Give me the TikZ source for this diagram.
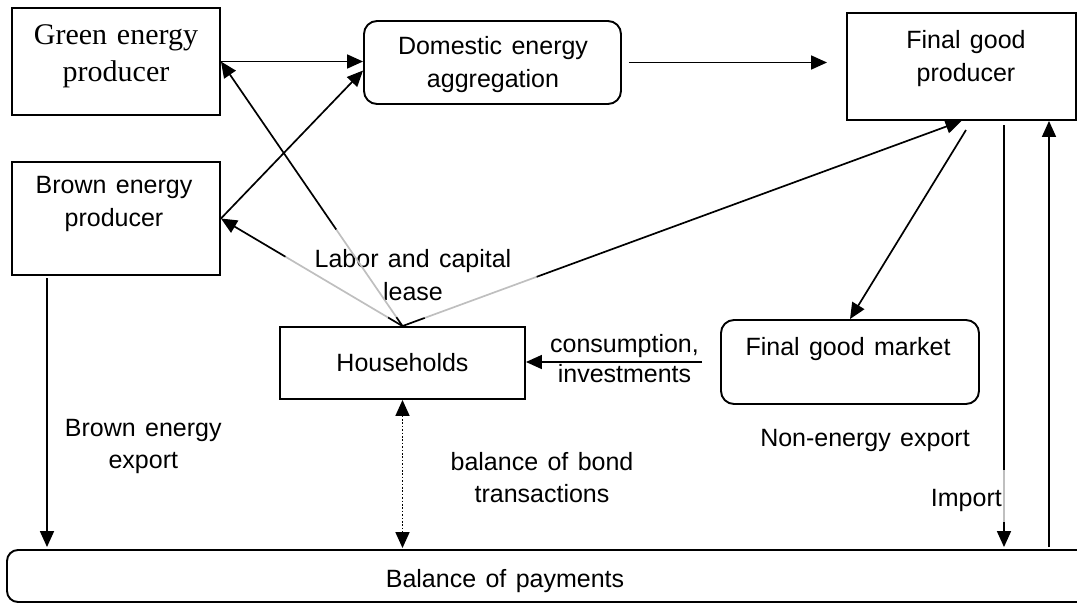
\documentclass[tikz,border=0pt]{standalone}
\usepackage{fontspec}
\setmainfont{Liberation Sans}[WordSpace=1.35]
\newfontfamily\tnrfont{Liberation Serif}[WordSpace=1.3]
\usetikzlibrary{arrows.meta,calc}
\begin{document}
\begin{tikzpicture}[x=1pt,y=-1pt,
  box/.style={draw, line width=1.9pt, inner sep=0pt, font=\fontsize{25}{33}\selectfont},
  lbl/.style={inner sep=0pt, align=center, font=\fontsize{25}{33}\selectfont},
  arr/.style={line width=1.7pt, -{Triangle[length=16pt,width=14pt]}},
  ln/.style={line width=1.7pt},
  faint/.style={line width=1.7pt, draw=black!25},
]
\useasboundingbox (0,0) rectangle (1077,603);
\clip (0,0) rectangle (1077,603);

% boxes
\node[box, minimum width=208pt, minimum height=107pt] (green) at (116,61.5) {};
\node[box, rounded corners=13pt, minimum width=257pt, minimum height=83pt] (dom) at (492.5,62.5) {};
\node[box, minimum width=229pt, minimum height=107pt] (final) at (961.5,66.5) {};
\node[box, minimum width=208pt, minimum height=113pt] (brown) at (116,218.5) {};
\node[box, minimum width=245pt, minimum height=72pt] (hh) at (402.5,363) {Households};
\node[box, rounded corners=13pt, minimum width=258pt, minimum height=84pt] (fgm) at (850,362) {};
\node[box, rounded corners=11pt, minimum width=1085pt, minimum height=52pt] (bop) at (549.5,576) {};

% box texts
\node[lbl, font=\tnrfont\fontsize{30}{37}\selectfont] (tgreen) at (116,56.5) {Green energy\\producer};
\node[lbl] (tdom) at (493,64.5) {Domestic energy\\aggregation};
\node[lbl] (tfinal) at (966,58.7) {Final good\\producer};
\node[lbl] (tbrown) at (114,203.5) {Brown energy\\producer};
\node[lbl, anchor=base] (tfgm) at (848,355) {Final good market};
\node[lbl, anchor=base] (tbop) at (505,587.3) {Balance of payments};

% edge labels
\node[lbl] (tlabor) at (413,275) {Labor and capital\\lease};
\node[lbl, font=\fontsize{25}{30}\selectfont] (tcons) at (624.5,359) {consumption,\\investments};
\node[lbl, font=\fontsize{25}{32}\selectfont] (texp) at (143.3,446) {Brown energy\\export};
\node[lbl, font=\fontsize{25}{32}\selectfont] (tbond) at (542,477.4) {balance of bond\\transactions};
\node[lbl, anchor=base] (tnon) at (865,446.7) {Non-energy export};
\node[lbl, anchor=base east] (timp) at (1002,506) {Import};

% energy flows
\draw[arr] (green.east) -- (green.east -| dom.west);
\draw[arr] (brown.east) -- ([yshift=-8pt]dom.west);
\draw[arr] ([xshift=7pt]dom.east) -- ([xshift=-19pt]dom.east -| final.west);

% labor and capital lease
\path (hh.north) -- (green.east) coordinate[pos=0.034] (g1) coordinate[pos=0.365] (g2);
\draw[ln] (hh.north) -- (g1);
\draw[faint] (g1) -- (g2);
\draw[arr] (g2) -- (green.east);

\path (hh.north) -- (brown.east) coordinate[pos=0.08] (b1) coordinate[pos=0.645] (b2);
\draw[ln] (hh.north) -- (b1);
\draw[faint] (b1) -- (b2);
\draw[arr] (b2) -- (brown.east);

\path (hh.north) -- (final.south) coordinate[pos=0.04] (f1) coordinate[pos=0.24] (f2);
\draw[ln] (hh.north) -- (f1);
\draw[faint] (f1) -- (f2);
\draw[arr] (f2) -- (final.south);

% final good flows
\coordinate (fs) at (966,130);
\draw[arr] (fs) -- (fgm.north);
\draw[arr] ([xshift=-18pt]fgm.west) -- (fgm.west -| hh.east);

% import / export
\coordinate (imptop) at (1004,125);
\coordinate (impg1) at (1004,470);
\coordinate (impg2) at (1004,522);
\draw[ln] (imptop) -- (impg1);
\draw[faint] (impg1) -- (impg2);
\draw[arr] (impg2) -- ([yshift=2pt]imptop |- bop.north);

\coordinate (upbot) at (1049,547);
\draw[arr] (upbot) -- (upbot |- final.south);

\coordinate (expt) at (47,278);
\draw[arr] (expt) -- ([yshift=2pt]expt |- bop.north);

% bonds
\draw[line width=1.7pt, dash pattern=on 1.7pt off 1.7pt, {Triangle[length=16pt,width=14pt]}-{Triangle[length=16pt,width=14pt]}] (hh.south) -- ([yshift=1pt]hh.south |- bop.north);
\end{tikzpicture}
\end{document}
